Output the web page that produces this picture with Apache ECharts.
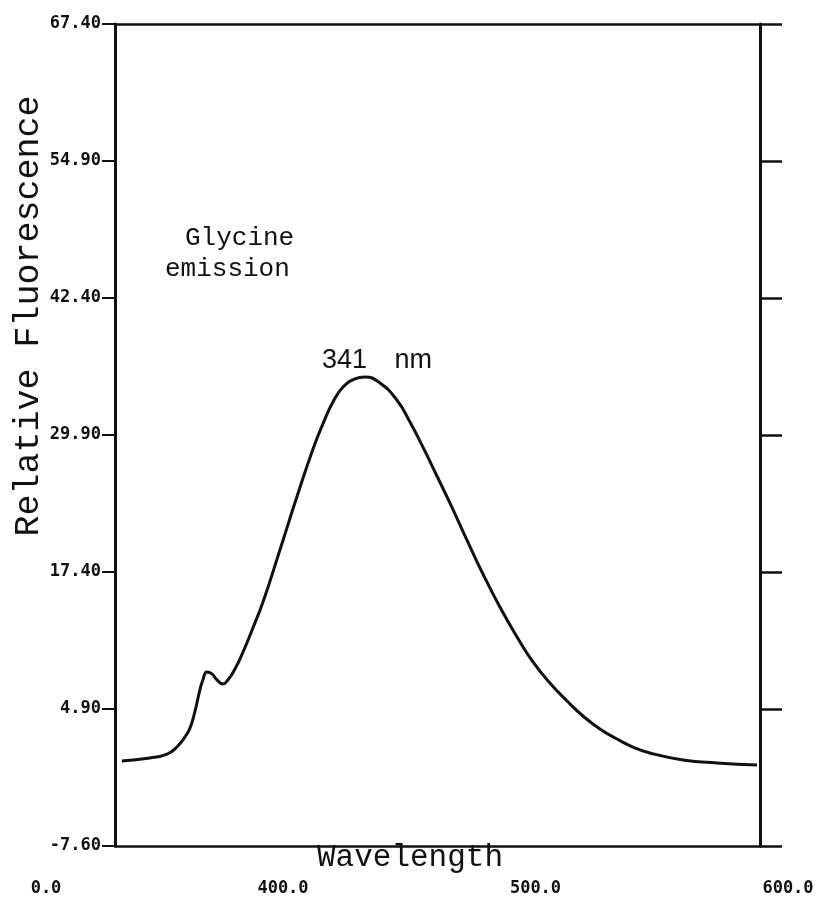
<!DOCTYPE html>
<html><head><meta charset="utf-8">
<script src="https://cdn.jsdelivr.net/npm/echarts@6/dist/echarts.min.js"></script>
<style>html,body{margin:0;padding:0;background:#fff}#c{width:836px;height:898px}</style>
</head><body><div id="c"></div>
<script>
// Emission spectrum (x in the units of the printed axis)
const wavelength = [336.2, 347.3, 354.1, 358.0, 361.2, 363.2, 365.1, 367.1, 368.3, 369.9,
  371.9, 373.9, 376.2, 378.2, 381.0, 384.2, 388.1, 392.1, 398.8, 405.5,
  411.9, 415.8, 419.8, 423.8, 428.5, 432.5, 438.4, 445.1, 450.3, 455.4,
  460.6, 466.1, 472.5, 479.2, 485.9, 492.7, 499.0, 505.7, 512.5, 518.8,
  525.5, 532.3, 538.6, 545.3, 558.4, 571.9, 587.7];
const fluorescence = [0.16, 0.43, 0.79, 1.43, 2.35, 3.17, 4.63, 6.63, 7.55, 8.28,
  8.10, 7.55, 7.18, 7.55, 8.55, 10.10, 12.29, 14.66, 19.41, 24.24,
  28.62, 30.90, 32.91, 34.28, 35.01, 35.19, 34.64, 33.09, 31.09, 28.81,
  26.34, 23.70, 20.50, 17.22, 14.21, 11.47, 9.19, 7.27, 5.63, 4.26,
  3.08, 2.16, 1.43, 0.89, 0.25, -0.03, -0.21];
const yTickValues = [-7.6, 4.9, 17.4, 29.9, 42.4, 54.9, 67.4];
const xTickValues = [300, 400, 500, 600];
const xTickLabels = ['0.0', '400.0', '500.0', '600.0'];
const yAxisTitle = 'Relative Fluorescence';
const xAxisTitle = 'Wavelength';
const noteLine1 = 'Glycine';
const noteLine2 = 'emission';
const peakLabel = ['341', 'nm'];

const INK = '#111';
const chart = echarts.init(document.getElementById('c'), null, {renderer: 'canvas'});

chart.setOption({
  animation: false,
  backgroundColor: '#fff',
  grid: [
    {left: 115, right: 76, top: 24, bottom: 52, outerBoundsMode: 'none', containLabel: false},
    {left: 30.5, right: 48, top: 862, height: 8, outerBoundsMode: 'none', containLabel: false}
  ],
  xAxis: [
    {type: 'value', gridIndex: 0, position: 'bottom', min: 333.5, max: 588.9,
      axisLine: {show: true, onZero: false, lineStyle: {color: INK, width: 2.5}},
      axisTick: {show: false}, axisLabel: {show: false}, splitLine: {show: false}},
    {type: 'value', gridIndex: 0, position: 'top', min: 333.5, max: 588.9,
      axisLine: {show: true, onZero: false, lineStyle: {color: INK, width: 2.5}},
      axisTick: {show: false}, axisLabel: {show: false}, splitLine: {show: false}},
    {type: 'value', gridIndex: 1, position: 'bottom', min: 300, max: 600,
      axisLine: {show: false}, axisTick: {show: false}, splitLine: {show: false},
      axisLabel: {
        show: true, margin: 10, customValues: xTickValues,
        color: INK, fontFamily: 'DejaVu Sans Mono', fontWeight: 'bold', fontSize: 17,
        formatter: function (v) {
          const i = xTickValues.indexOf(v);
          const t = i >= 0 ? xTickLabels[i] : '';
          return i === 0 ? '{first|' + t + '}' : t;
        },
        rich: {first: {padding: [0, 0, 0, 31], color: INK, fontFamily: 'DejaVu Sans Mono', fontWeight: 'bold', fontSize: 17}}
      }}
  ],
  yAxis: [
    {type: 'value', gridIndex: 0, position: 'left', min: -7.6, max: 67.4,
      axisLine: {show: true, onZero: false, lineStyle: {color: INK, width: 3}},
      axisTick: {show: true, inside: false, length: 13, customValues: yTickValues, lineStyle: {color: INK, width: 2}},
      axisLabel: {show: true, margin: 14, customValues: yTickValues, color: INK,
        fontFamily: 'DejaVu Sans Mono', fontWeight: 'bold', fontSize: 17,
        formatter: function (v) { return v.toFixed(2); }},
      splitLine: {show: false}},
    {type: 'value', gridIndex: 0, position: 'right', min: -7.6, max: 67.4,
      axisLine: {show: true, onZero: false, lineStyle: {color: INK, width: 3}},
      axisTick: {show: true, inside: false, length: 22, customValues: yTickValues, lineStyle: {color: INK, width: 2.5}},
      axisLabel: {show: false}, splitLine: {show: false}},
    {type: 'value', gridIndex: 1, show: false, min: 0, max: 1}
  ],
  series: [{
    type: 'line', xAxisIndex: 0, yAxisIndex: 0,
    data: wavelength.map(function (w, i) { return [w, fluorescence[i]]; }),
    smooth: 0.5, symbol: 'none', clip: false,
    lineStyle: {color: INK, width: 3}
  }],
  graphic: [
    {type: 'text', x: 29, y: 316, rotation: Math.PI / 2,
      style: {text: yAxisTitle, fill: INK, font: '35px "Liberation Mono"',
        align: 'center', verticalAlign: 'middle', textAlign: 'center', textVerticalAlign: 'middle'}},
    {type: 'text', x: 317, y: 858,
      style: {text: xAxisTitle, fill: INK, font: '31px "Liberation Mono"',
        align: 'left', verticalAlign: 'middle', textAlign: 'left', textVerticalAlign: 'middle'}},
    {type: 'text', x: 185, y: 238,
      style: {text: noteLine1, fill: INK, font: '26px "Liberation Mono"',
        align: 'left', verticalAlign: 'middle', textAlign: 'left', textVerticalAlign: 'middle'}},
    {type: 'text', x: 165, y: 269,
      style: {text: noteLine2, fill: INK, font: '26px "Liberation Mono"',
        align: 'left', verticalAlign: 'middle', textAlign: 'left', textVerticalAlign: 'middle'}},
    {type: 'text', x: 322, y: 361,
      style: {text: '{a|' + peakLabel[0] + '} {b|' + peakLabel[1] + '}', fill: INK,
        font: '27px "Liberation Sans"',
        align: 'left', verticalAlign: 'middle', textAlign: 'left', textVerticalAlign: 'middle',
        rich: {
          a: {fontFamily: 'Liberation Sans', fontSize: 27, fill: INK, color: INK},
          b: {fontFamily: 'Liberation Sans', fontSize: 27, fill: INK, color: INK, padding: [0, 0, 0, 20]}
        }}}
  ]
});
</script>
</body></html>
